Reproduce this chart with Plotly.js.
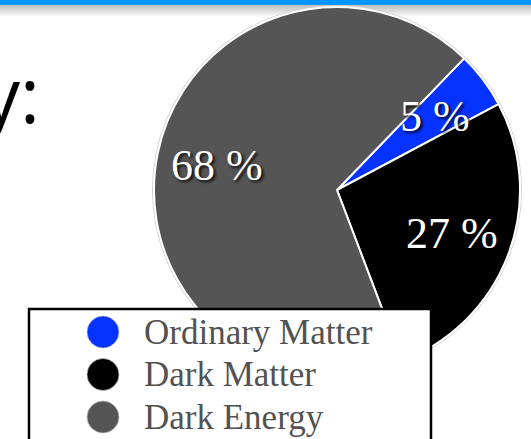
<!DOCTYPE html>
<html>
<head>
<meta charset="utf-8">
<script src="https://cdn.plot.ly/plotly-3.0.1.min.js"></script>
<style>
  html, body { margin: 0; padding: 0; }
  body {
    width: 531px; height: 439px; overflow: hidden;
    background: linear-gradient(to bottom, #0096ff 0px, #0096ff 5px, #bcbcbc 5px, #ffffff 17px, #ffffff 100%);
  }
  #chart { width: 531px; height: 439px; }
</style>
</head>
<body>
<div id="chart"></div>
<script>
// ---- data ----
const categories = ['Ordinary Matter', 'Dark Matter', 'Dark Energy'];
const percents = [5, 27, 68];
const sliceColors = ['#0433ff', '#000000', '#555555'];

const W = 531, H = 439;
const px = v => v / W;
const py = v => (H - v) / H;

// pie geometry (pixels)
const cx = 337, cy = 190, R = 183, startAngle = 44, labelFrac = 0.67;

// legend built from the category arrays
const legendTop = 309, rowStart = 332, rowStep = 42.5;
const shapes = [{
  // faint outline around the pie
  type: 'circle', xref: 'paper', yref: 'paper', layer: 'below',
  x0: px(cx - R - 1.5), x1: px(cx + R + 1.5), y0: py(cy + R + 1.5), y1: py(cy - R - 1.5),
  fillcolor: 'rgba(0,0,0,0)', line: { color: '#cfcfcf', width: 1 }
}, {
  type: 'rect', xref: 'paper', yref: 'paper', layer: 'above',
  x0: px(29), x1: px(431), y0: py(460), y1: py(legendTop),
  fillcolor: '#ffffff', line: { color: '#000000', width: 2.5 }
}];
const annotations = [{
  text: 'y:', xref: 'paper', yref: 'paper', x: px(42), y: py(93),
  xanchor: 'right', yanchor: 'middle', showarrow: false,
  font: { family: 'Open Sans', size: 76, color: '#000000' }
}];

// slice labels placed at each slice's mid-angle (computed from the values)
const total = percents.reduce((a, b) => a + b, 0);
let cum = 0;
percents.forEach((v, i) => {
  const mid = (startAngle + 360 * (cum + v / 2) / total) * Math.PI / 180;
  cum += v;
  const lx = cx + R * labelFrac * Math.sin(mid);
  const ly = cy - R * labelFrac * Math.cos(mid);
  annotations.push({
    text: v + ' %', xref: 'paper', yref: 'paper', x: px(lx), y: py(ly),
    xanchor: 'center', yanchor: 'middle', showarrow: false,
    font: { family: 'Liberation Serif', size: 44, color: '#ffffff',
            shadow: '2px 2px 3px rgba(0,0,0,0.9)' }
  });
});

categories.forEach((name, i) => {
  const ry = rowStart + i * rowStep;
  shapes.push({
    type: 'circle', xref: 'paper', yref: 'paper', layer: 'above',
    xsizemode: 'pixel', ysizemode: 'pixel',
    xanchor: px(103), yanchor: py(ry),
    x0: -16, x1: 16, y0: -16, y1: 16,
    fillcolor: sliceColors[i], line: { color: 'rgba(190,190,190,0.7)', width: 1 }
  });
  annotations.push({
    text: name, xref: 'paper', yref: 'paper', x: px(142), y: py(ry),
    xanchor: 'left', yanchor: 'middle', showarrow: false,
    font: { family: 'Liberation Serif', size: 35, color: '#525252' }
  });
});

const trace = {
  type: 'pie',
  labels: categories,
  values: percents,
  sort: false,
  direction: 'clockwise',
  rotation: startAngle,
  marker: { colors: sliceColors, line: { color: '#ffffff', width: 2 } },
  textinfo: 'none',
  hoverinfo: 'none',
  showlegend: false,
  domain: { x: [px(cx - R), px(cx + R)], y: [py(cy + R), py(cy - R)] }
};

const layout = {
  width: W, height: H,
  margin: { l: 0, r: 0, t: 0, b: 0, pad: 0 },
  paper_bgcolor: 'rgba(0,0,0,0)',
  plot_bgcolor: 'rgba(0,0,0,0)',
  showlegend: false,
  shapes: shapes,
  annotations: annotations
};

Plotly.newPlot('chart', [trace], layout, { displayModeBar: false, staticPlot: true });
</script>
</body>
</html>
